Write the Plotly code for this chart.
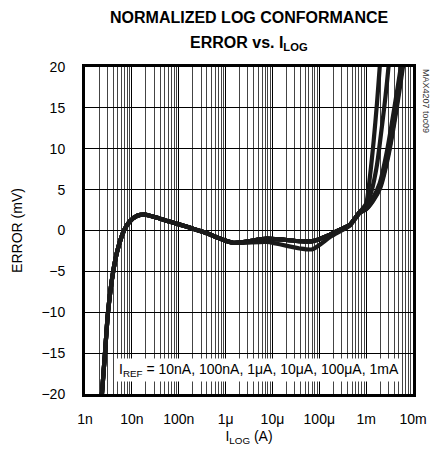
import plotly.graph_objects as go

# ---- data ----
I_COMMON = [2.2e-9, 2.3e-9, 2.67e-9, 3.1e-9, 4e-9, 5e-9, 6.8e-9, 9e-9, 13e-9, 19e-9,
            40e-9, 100e-9, 360e-9, 1.45e-6, 7.6e-6, 38e-6, 72e-6, 170e-6, 300e-6,
            450e-6, 720e-6]
ERR_UPPER = [-22, -20, -15, -10, -5, -2.3, 0, 1.1, 1.8, 1.95,
             1.45, 0.75, -0.25, -1.5, -1.0, -1.3, -1.3, -0.5, 0.2,
             0.7, 2.2]
ERR_LOWER = [-22, -20, -15, -10, -5, -2.3, 0, 1.1, 1.8, 1.95,
             1.45, 0.75, -0.25, -1.5, -1.4, -2.2, -2.3, -0.8, 0.0,
             0.6, 2.1]

I_TAIL_A = [1e-3, 1.2e-3, 1.45e-3, 1.7e-3, 1.95e-3, 2.2e-3]
E_TAIL_A = [3.3, 6.5, 11.0, 15.5, 20.0, 24.0]
I_TAIL_B = [1e-3, 1.3e-3, 1.7e-3, 2.2e-3, 2.6e-3, 3.0e-3, 3.4e-3]
E_TAIL_B = [3.0, 4.8, 8.0, 13.0, 16.5, 20.0, 24.0]
I_TAIL_C1 = [1e-3, 1.4e-3, 1.95e-3, 2.9e-3, 4.2e-3, 5.8e-3, 6.8e-3]
E_TAIL_C1 = [2.7, 3.8, 5.5, 9.5, 14.8, 20.0, 23.0]
I_TAIL_C2 = [1e-3, 1.4e-3, 1.95e-3, 2.8e-3, 4.0e-3, 5.5e-3, 6.5e-3]
E_TAIL_C2 = [2.8, 4.0, 5.8, 9.8, 15.0, 20.0, 23.0]
I_TAIL_C3 = [1e-3, 1.4e-3, 2.0e-3, 3.0e-3, 4.4e-3, 6.1e-3, 7.0e-3]
E_TAIL_C3 = [2.6, 3.6, 5.2, 9.2, 14.6, 20.0, 22.5]
I_TAIL_C4 = [1e-3, 1.4e-3, 1.95e-3, 2.95e-3, 4.3e-3, 5.9e-3, 6.9e-3]
E_TAIL_C4 = [2.6, 3.7, 5.3, 9.3, 14.7, 20.0, 22.8]

X_TICKS = [1e-9, 1e-8, 1e-7, 1e-6, 1e-5, 1e-4, 1e-3, 1e-2]
X_TICK_TEXT = ["1n", "10n", "100n", "1\u03bc", "10\u03bc", "100\u03bc", "1m", "10m"]
Y_TICKS = [-20, -15, -10, -5, 0, 5, 10, 15, 20]

FONT = "Liberation Sans Narrow, Arial Narrow, Liberation Sans, Arial, sans-serif"

curves = [
    (ERR_UPPER, I_TAIL_A, E_TAIL_A),
    (ERR_UPPER, I_TAIL_B, E_TAIL_B),
    (ERR_UPPER, I_TAIL_C1, E_TAIL_C1),
    (ERR_UPPER, I_TAIL_C2, E_TAIL_C2),
    (ERR_UPPER, I_TAIL_C3, E_TAIL_C3),
    (ERR_LOWER, I_TAIL_C4, E_TAIL_C4),
]

fig = go.Figure()
for base, it, et in curves:
    fig.add_trace(go.Scatter(
        x=I_COMMON + it, y=base + et, mode="lines",
        line=dict(color="#1a1a1a", width=4.2, shape="spline", smoothing=0.6),
        showlegend=False, hoverinfo="skip"))

# the page body adds an 8px margin, so the figure is 8px smaller than the window
fig.update_layout(
    width=430, height=446,
    margin=dict(l=77, r=25, t=59, b=60),
    paper_bgcolor="white", plot_bgcolor="white",
    font=dict(family=FONT, size=14, color="black"),
    xaxis=dict(
        type="log", range=[-9, -2], automargin=False,
        tickvals=X_TICKS, ticktext=X_TICK_TEXT,
        showgrid=True, gridcolor="black", gridwidth=1.2,
        minor=dict(dtick="D1", showgrid=True, gridcolor="#444", gridwidth=1, ticks=""),
        showline=True, linecolor="black", linewidth=3, mirror=True,
        ticks="", ticklabelstandoff=10, zeroline=False,
        title=dict(text="I<sub>LOG</sub> (A)", standoff=6, font=dict(size=14)),
        tickfont=dict(size=14)),
    yaxis=dict(
        range=[-20, 20], tickvals=Y_TICKS, automargin=False,
        showgrid=True, gridcolor="black", gridwidth=1.2,
        showline=True, linecolor="black", linewidth=3, mirror=True,
        ticks="", ticklabelstandoff=14, zeroline=False,
        title=dict(text="ERROR (mV)", standoff=16, font=dict(size=14)),
        tickfont=dict(size=14)),
)

# title (two lines)
fig.add_annotation(
    text="<b>NORMALIZED LOG CONFORMANCE</b>",
    xref="paper", yref="paper", x=0.5, y=1.0, yshift=50,
    xanchor="center", yanchor="middle", showarrow=False,
    font=dict(family=FONT, size=16, color="black"))
fig.add_annotation(
    text="<b>ERROR vs. I<sub>LOG</sub></b>",
    xref="paper", yref="paper", x=0.5, y=1.0, yshift=24,
    xanchor="center", yanchor="middle", showarrow=False,
    font=dict(family=FONT, size=16, color="black"))

fig.add_annotation(
    text="I<sub>REF</sub> = 10nA, 100nA, 1\u03bcA, 10\u03bcA, 100\u03bcA, 1mA",
    xref="paper", yref="paper", x=0.53, y=0.072,
    xanchor="center", yanchor="middle", showarrow=False,
    bgcolor="white", borderpad=2,
    font=dict(family=FONT, size=14, color="black"))

fig.add_annotation(
    text="MAX4207 toc09", xref="paper", yref="paper", x=1.04, y=1.0,
    xanchor="center", yanchor="top", textangle=90, showarrow=False,
    font=dict(family=FONT, size=9, color="#333"))

fig.write_html("out.html")
